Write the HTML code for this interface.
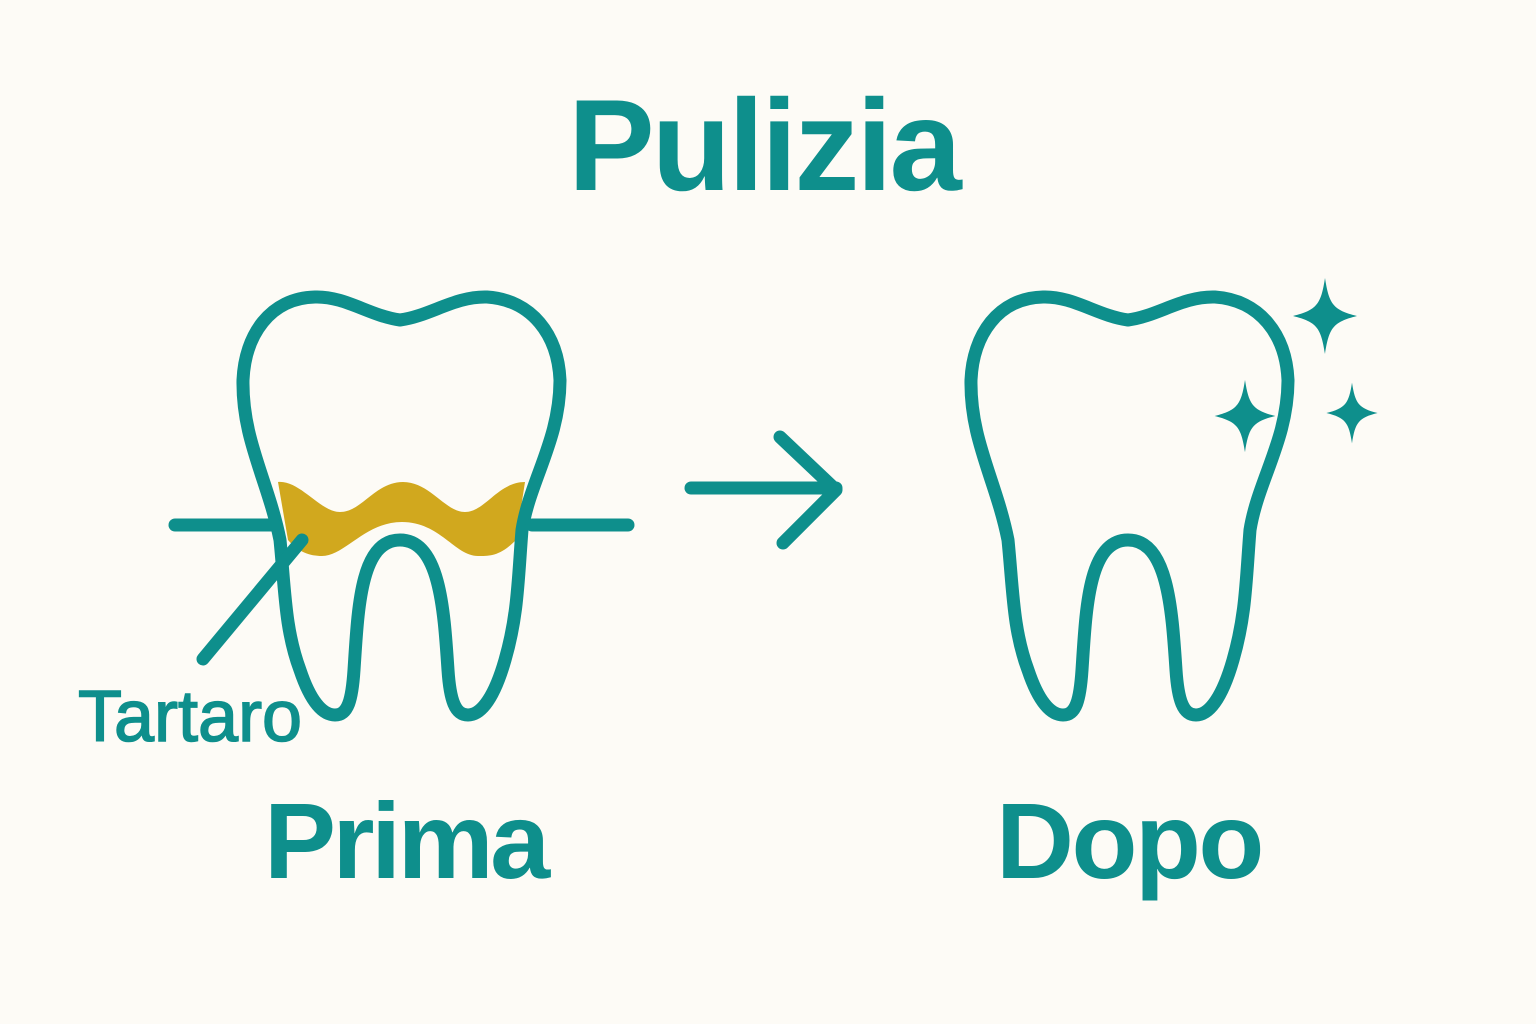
<!DOCTYPE html>
<html><head><meta charset="utf-8"><style>
html,body{margin:0;padding:0;background:#fdfbf6;}
body{width:1536px;height:1024px;position:relative;overflow:hidden;font-family:"Liberation Sans",sans-serif;color:#0e8f8c;}
.t{position:absolute;font-weight:bold;white-space:nowrap;}
</style></head><body>
<svg width="1536" height="1024" style="position:absolute;left:0;top:0">
<defs>
<path id="tooth" d="M400,320 C370,316 345,296 315,297 C270,298 245,335 243,380 C242,440 268,480 280,540 C285,590 285,630 300,670 C310,700 322,715 335,715 C348,715 352,700 354,670 C358,610 360,540 400,540 C440,540 444,610 448,670 C450,700 455,715 468,715 C482,715 495,695 505,660 C518,615 518,580 522,530 C530,480 560,440 560,380 C558,335 532,300 487,297 C455,296 430,316 400,320 Z"/>
<path id="spark" d="M0,-38 C4,-12 8,-6 32,0 C8,6 4,12 0,38 C-4,12 -8,6 -32,0 C-8,-6 -4,-12 0,-38 Z"/>
</defs>
<g fill="none" stroke="#0e8f8c" stroke-width="13" stroke-linecap="round" stroke-linejoin="round">
<path d="M278,482 C300,480 320,512 340,512 C362,512 375,482 403,482 C430,482 445,512 465,512 C485,512 498,482 525,482 L516,540 C500,556 490,556 478,556 C455,556 440,522 402,522 C365,522 345,556 322,556 C310,556 298,552 288,540 Z" fill="#d1a81e" stroke="none"/>
<use href="#tooth"/>
<use href="#tooth" transform="translate(728,0)"/>
<line x1="175" y1="525" x2="275" y2="525"/>
<line x1="532" y1="525" x2="628" y2="525"/>
<line x1="302" y1="540" x2="203" y2="659"/>
<line x1="691" y1="488" x2="836" y2="488"/>
<polyline points="780,437 836,490 783,543"/>
</g>
<g fill="#0e8f8c">
<use href="#spark" transform="translate(1325,316)"/>
<use href="#spark" transform="translate(1245,416) scale(0.95)"/>
<use href="#spark" transform="translate(1352,413) scale(0.8)"/>
</g>
</svg>
<div class="t" style="left:568px;top:70px;font-size:130px;letter-spacing:-3px;">Pulizia</div>
<div class="t" style="left:264px;top:778px;font-size:108px;letter-spacing:-3.5px;">Prima</div>
<div class="t" style="left:996px;top:778px;font-size:108px;letter-spacing:-2.5px;">Dopo</div>
<div class="t" style="left:78px;top:676px;font-size:72px;font-weight:normal;-webkit-text-stroke:1.5px #0e8f8c;">Tartaro</div>
</body></html>
